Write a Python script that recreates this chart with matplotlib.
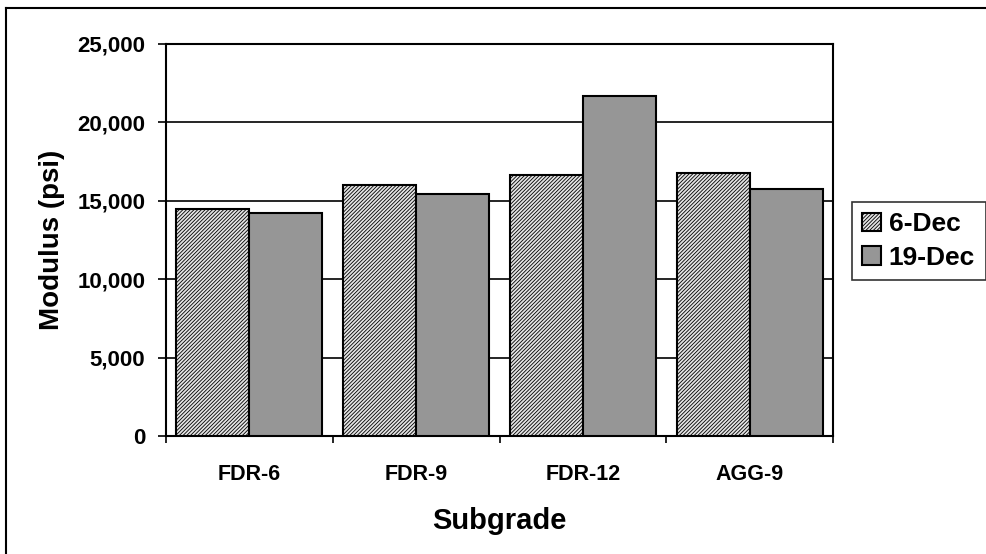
import matplotlib
matplotlib.use("Agg")
import matplotlib.pyplot as plt
import numpy as np
from matplotlib.lines import Line2D
from matplotlib.ticker import FuncFormatter, FixedLocator

plt.rcParams['font.family'] = ['Liberation Sans', 'DejaVu Sans']
plt.rcParams['font.weight'] = 'bold'
plt.rcParams['hatch.linewidth'] = 0.6

categories = ['FDR-6', 'FDR-9', 'FDR-12', 'AGG-9']
dec6 = [14500, 16000, 16650, 16750]
dec19 = [14250, 15450, 21700, 15750]
series_names = ['6-Dec', '19-Dec']

fig = plt.figure(figsize=(9.86, 5.54), dpi=100)
ax = fig.add_axes([0.1684, 0.213, 0.6764, 0.7076])

x = np.arange(len(categories))
w = 0.438
ax.bar(x - w/2, dec6, w, facecolor='#e4e4e4', edgecolor='black', hatch='/' * 9,
       linewidth=1.5, label=series_names[0], zorder=3)
ax.bar(x + w/2, dec19, w, facecolor='#969696', edgecolor='black',
       linewidth=1.5, label=series_names[1], zorder=3)

ax.set_xlim(-0.5, len(categories) - 0.5)
ax.set_ylim(0, 25000)
ax.set_yticks(np.arange(0, 25001, 5000))
ax.yaxis.set_major_formatter(FuncFormatter(lambda v, p: f'{int(v):,}'))
ax.grid(axis='y', color='black', linewidth=1.2, zorder=0)
ax.set_axisbelow(True)

ax.set_xticks(x)
ax.set_xticklabels(categories, fontsize=15.5, fontweight='bold')
ax.tick_params(axis='x', which='major', length=0, pad=20)
ax.xaxis.set_minor_locator(FixedLocator(np.arange(-0.5, len(categories), 1.0)))
ax.tick_params(axis='x', which='minor', length=5, width=1.2, direction='out')
ax.tick_params(axis='y', length=6, width=1.2, direction='out', pad=9, labelsize=16)
for lab in ax.get_yticklabels():
    lab.set_fontweight('bold')

for s in ax.spines.values():
    s.set_linewidth(1.5)
    s.set_color('black')

ax.set_ylabel('Modulus (psi)', fontsize=20, fontweight='bold', labelpad=9)
ax.set_xlabel('Subgrade', fontsize=21, fontweight='bold', labelpad=16)

leg = fig.legend(loc='center left', bbox_to_anchor=(0.864, 0.565), fontsize=19,
                 frameon=True, fancybox=False, edgecolor='black', borderaxespad=0,
                 handlelength=0.7, handleheight=0.7, handletextpad=0.3,
                 borderpad=0.4, labelspacing=0.35)
leg.get_frame().set_linewidth(1.2)
for t in leg.get_texts():
    t.set_fontweight('bold')

# outer chart border (left and top visible)
fig.add_artist(Line2D([0.0065, 0.0065], [0, 0.986], color='black', linewidth=1.5,
                      transform=fig.transFigure))
fig.add_artist(Line2D([0.0065, 1.0], [0.986, 0.986], color='black', linewidth=1.5,
                      transform=fig.transFigure))

fig.savefig('out.png', dpi=100)
